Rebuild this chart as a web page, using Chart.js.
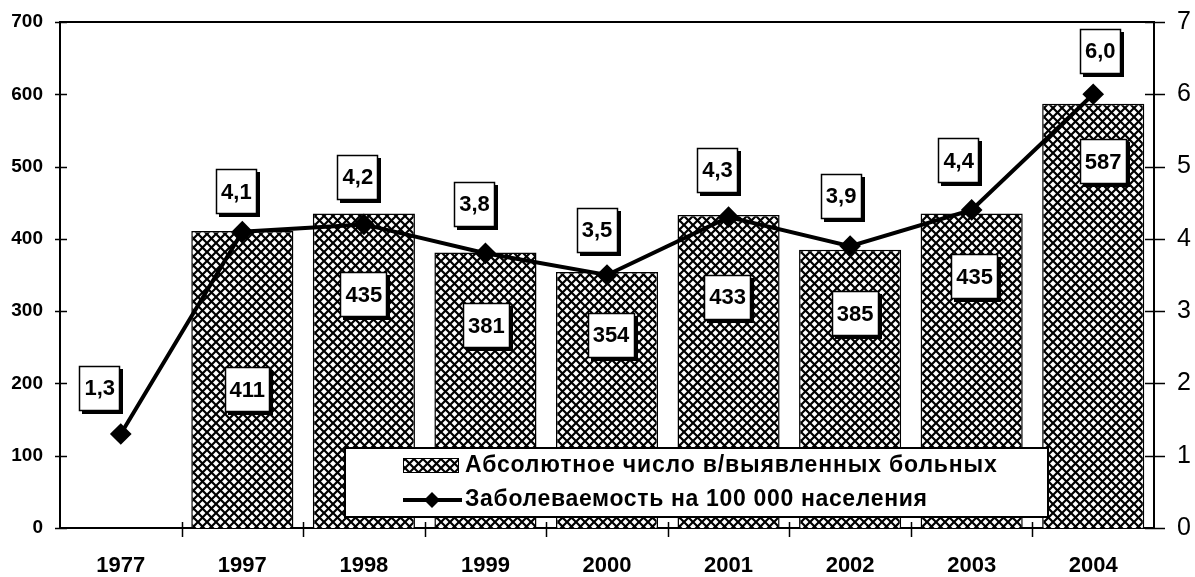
<!DOCTYPE html>
<html><head><meta charset="utf-8">
<script src="https://cdn.jsdelivr.net/npm/chart.js@4.4.1/dist/chart.umd.min.js"></script>
<style>html,body{margin:0;padding:0;background:#fff;}canvas{display:block}</style>
</head><body>
<canvas id="c" width="1195" height="577"></canvas>
<script>
// ---- data ----
const years = ['1977','1997','1998','1999','2000','2001','2002','2003','2004'];
const cases = [null,411,435,381,354,433,385,435,587];
const incidence = [1.3,4.1,4.2,3.8,3.5,4.3,3.9,4.4,6.0];
const leftTickValues = [0,100,200,300,400,500,600,700];
const rightTickValues = [0,1,2,3,4,5,6,7];
const seriesNames = ['Абсолютное число в/выявленных больных','Заболеваемость на 100 000 населения'];

const FONT = '"Liberation Sans", Arial, sans-serif';
const canvas = document.getElementById('c');
const mainCtx = canvas.getContext('2d');

function makeHatch(ctx){
  const T = 9;
  const c = document.createElement('canvas'); c.width = T; c.height = T;
  const g = c.getContext('2d');
  g.fillStyle = '#fff'; g.fillRect(0,0,T,T);
  g.strokeStyle = '#000'; g.lineWidth = 2.2;
  g.beginPath();
  g.moveTo(-2,-2); g.lineTo(T+2,T+2);
  g.moveTo(T+2,-2); g.lineTo(-2,T+2);
  g.stroke();
  return ctx.createPattern(c,'repeat');
}
const hatch = makeHatch(mainCtx);

// label placement styles (pixel offsets)
const barLabelOffsets = [[0,0],[5,159],[0,81],[1,73],[4,63],[-1,82],[5,64],[3,63],[10,58]];
const lineLabelOffsets = [[-21,-46],[-6,-40],[-6,-47],[-11,-49],[-10,-45],[-11,-47],[-9,-50],[-13,-49],[7,-43]];

function labelBox(ctx, cx, cy, text){
  ctx.save();
  ctx.font = 'bold 22px ' + FONT;
  const w = Math.round(ctx.measureText(text).width + 10), h = 45;
  const x = Math.round(cx - w/2), y = Math.round(cy - h/2);
  ctx.fillStyle = '#000'; ctx.fillRect(x+3, y+3, w, h);
  ctx.fillStyle = '#fff'; ctx.fillRect(x, y, w, h);
  ctx.strokeStyle = '#000'; ctx.lineWidth = 1.5; ctx.strokeRect(x+0.5, y+0.5, w-1, h-1);
  ctx.fillStyle = '#000'; ctx.textAlign = 'center'; ctx.textBaseline = 'middle';
  ctx.fillText(text, cx, cy+1);
  ctx.restore();
}

function spacedText(ctx, text, x, y, target){
  const natural = ctx.measureText(text).width;
  const sp = (target - natural) / (text.length - 1);
  if ('letterSpacing' in ctx){
    ctx.letterSpacing = sp.toFixed(2) + 'px';
    ctx.fillText(text, x, y);
    ctx.letterSpacing = '0px';
  } else {
    ctx.fillText(text, x, y);
  }
}

const decor = {
  id: 'decor',
  afterDraw(chart){
    const ctx = chart.ctx;
    const a = chart.chartArea;
    const ys = chart.scales.y, yr = chart.scales.y1;
    ctx.save();
    ctx.strokeStyle = '#000';
    ctx.lineWidth = 2;
    ctx.beginPath(); ctx.moveTo(a.left, a.top); ctx.lineTo(a.right, a.top); ctx.stroke();
    ctx.lineWidth = 1.5;
    ctx.beginPath();
    leftTickValues.forEach(v => { const y = Math.round(ys.getPixelForValue(v))+0.5; ctx.moveTo(a.left-5, y); ctx.lineTo(a.left+7, y); });
    rightTickValues.forEach(v => { const y = Math.round(yr.getPixelForValue(v))+0.5; ctx.moveTo(a.right-9, y); ctx.lineTo(a.right+11, y); });
    const n = years.length, cw = (a.right - a.left) / n;
    for (let i = 1; i < n; i++){ const x = Math.round(a.left + i*cw)+0.5; ctx.moveTo(x, a.bottom-6); ctx.lineTo(x, a.bottom+9); }
    ctx.stroke();
    ctx.restore();

    const barMeta = chart.getDatasetMeta(0);
    barMeta.data.forEach((el, i) => {
      if (cases[i] == null) return;
      const o = barLabelOffsets[i];
      labelBox(ctx, el.x + o[0], el.y + o[1], String(cases[i]));
    });
    const lineMeta = chart.getDatasetMeta(1);
    lineMeta.data.forEach((el, i) => {
      const o = lineLabelOffsets[i];
      labelBox(ctx, el.x + o[0], el.y + o[1], incidence[i].toFixed(1).replace('.', ','));
    });

    // legend
    ctx.save();
    const lx = 345, ly = 448, lw = 703, lh = 69;
    ctx.fillStyle = '#fff'; ctx.fillRect(lx, ly, lw, lh);
    ctx.strokeStyle = '#000'; ctx.lineWidth = 2; ctx.strokeRect(lx, ly, lw, lh);
    ctx.fillStyle = hatch; ctx.fillRect(403, 458, 55, 14);
    ctx.lineWidth = 1; ctx.strokeRect(403.5, 458.5, 55, 14);
    ctx.lineWidth = 4; ctx.beginPath(); ctx.moveTo(403, 500); ctx.lineTo(462, 500); ctx.stroke();
    ctx.fillStyle = '#000'; ctx.beginPath();
    ctx.moveTo(432, 492); ctx.lineTo(440, 500); ctx.lineTo(432, 508); ctx.lineTo(424, 500); ctx.closePath(); ctx.fill();
    ctx.fillStyle = '#000'; ctx.textAlign = 'left'; ctx.textBaseline = 'middle';
    ctx.font = 'bold 23px ' + FONT;
    spacedText(ctx, seriesNames[0], 465, 466, 532);
    spacedText(ctx, seriesNames[1], 465, 500, 462);
    ctx.restore();
  }
};

function noPad(s){ s.paddingTop = 0; s.paddingBottom = 0; s.paddingLeft = 0; s.paddingRight = 0; }

new Chart(canvas, {
  data: {
    labels: years,
    datasets: [
      { type: 'bar', label: seriesNames[0], data: cases, yAxisID: 'y',
        backgroundColor: hatch, borderColor: '#000', borderWidth: 1.5,
        barPercentage: 0.84, categoryPercentage: 1.0, order: 2 },
      { type: 'line', label: seriesNames[1], data: incidence, yAxisID: 'y1',
        borderColor: '#000', borderWidth: 4, tension: 0,
        pointStyle: 'rectRot', pointRadius: 8, pointBackgroundColor: '#000', pointBorderColor: '#000',
        order: 1 }
    ]
  },
  options: {
    responsive: false, animation: false,
    layout: { padding: { top: 22, left: 0, right: 0, bottom: 0 } },
    plugins: { legend: { display: false }, tooltip: { enabled: false } },
    scales: {
      x: {
        offset: true,
        grid: { display: false, drawTicks: false },
        border: { display: true, color: '#000', width: 2 },
        ticks: { color: '#000', font: { family: FONT, size: 22, weight: 'bold' }, padding: 25, maxRotation: 0, autoSkip: false },
        afterFit(s){ s.height = 49; noPad(s); }
      },
      y: {
        position: 'left', min: 0, max: 700,
        grid: { display: false, drawTicks: false },
        border: { display: true, color: '#000', width: 2 },
        ticks: { stepSize: 100, color: '#000', font: { family: FONT, size: 19, weight: 'bold' }, padding: 17 },
        afterFit(s){ s.width = 60; noPad(s); }
      },
      y1: {
        position: 'right', min: 0, max: 7,
        grid: { display: false, drawTicks: false },
        border: { display: true, color: '#000', width: 2 },
        ticks: { stepSize: 1, color: '#000', font: { family: FONT, size: 25 }, padding: 23 },
        afterFit(s){ s.width = 41; noPad(s); }
      }
    }
  },
  plugins: [decor]
});
</script>
</body></html>
